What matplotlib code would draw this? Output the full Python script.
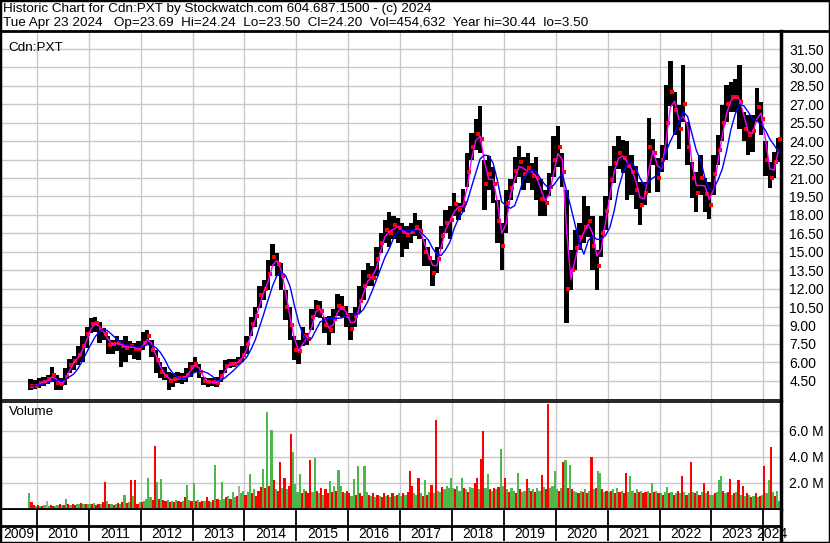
import numpy as np
import pandas as pd
import matplotlib
matplotlib.use("Agg")
import matplotlib.pyplot as plt

plt.rcParams['font.family'] = ['Liberation Sans', 'DejaVu Sans']

# monthly price ranges, Nov 2009 .. Apr 2024
high = [4.6, 4.55,
        4.7, 4.8, 5.0, 5.65, 4.95, 4.75, 5.5, 6.3, 6.5, 7.3, 8.1, 8.9,
        9.6, 9.7, 9.3, 8.8, 8.1, 7.8, 8.1, 7.8, 8.1, 7.7, 7.55, 7.7,
        8.5, 8.65, 7.8, 7.0, 6.05, 5.65, 5.25, 5.1, 5.2, 5.1, 5.5, 6.05,
        6.45, 5.9, 4.8, 4.7, 4.7, 4.8, 5.35, 6.2, 6.3, 6.3, 6.45, 7.3,
        8.1, 9.7, 10.5, 12.2, 12.7, 14.3, 15.6, 14.9, 14.1, 11.9, 10.5, 8.1,
        7.8, 8.9, 8.4, 10.3, 11.1, 10.95, 9.7, 9.8, 10.3, 11.6, 11.4, 10.55,
        10.0, 10.5, 12.2, 13.5, 14.1, 13.8, 15.4, 16.5, 17.6, 18.2, 17.9, 17.75,
        17.35, 17.1, 17.35, 18.15, 17.6, 16.0, 15.4, 14.35, 15.4, 17.1, 18.4, 18.7,
        19.8, 19.0, 20.1, 23.0, 24.7, 25.8, 26.85, 22.5, 22.8, 21.9, 19.2, 17.3,
        20.0, 20.9, 22.75, 23.6, 22.75, 23.0, 22.2, 22.75, 20.9, 20.0, 21.4, 24.4,
        25.2, 23.0, 20.0, 15.15, 16.8, 17.3, 19.5, 18.7, 17.9, 15.15, 17.9, 19.5,
        22.0, 23.6, 24.4, 24.1, 24.0, 22.9, 22.0, 20.7, 20.7, 25.85, 24.2, 22.6,
        23.7, 28.6, 30.5, 28.0, 26.95, 30.2, 25.6, 22.3, 21.5, 22.9, 21.0, 20.7,
        22.9, 24.5, 26.95, 28.6, 28.85, 29.1, 30.2, 26.4, 26.1, 26.1, 28.3, 27.2,
        24.0, 22.3, 23.1, 24.24]
low = [3.75, 3.8,
       3.9, 4.1, 4.2, 4.4, 3.75, 3.75, 4.15, 5.1, 5.35, 5.8, 6.05, 7.15,
       8.4, 8.5, 7.55, 7.8, 6.7, 6.7, 6.9, 5.65, 6.05, 6.6, 6.3, 6.2,
       7.0, 7.4, 6.45, 5.1, 4.7, 4.55, 3.75, 4.0, 4.3, 4.25, 4.4, 4.8,
       5.2, 4.7, 4.15, 4.0, 4.05, 3.95, 4.4, 5.1, 5.5, 5.6, 5.8, 6.05,
       6.7, 8.1, 8.9, 10.4, 11.1, 11.9, 13.8, 13.0, 11.9, 9.45, 7.8, 6.2,
       5.9, 7.3, 7.4, 8.6, 9.7, 9.6, 8.35, 7.4, 8.4, 9.75, 9.7, 8.9,
       7.8, 8.9, 10.0, 11.1, 12.2, 12.2, 13.0, 14.9, 15.7, 15.4, 16.0, 15.7,
       14.6, 15.2, 15.7, 16.25, 16.0, 13.8, 13.8, 12.2, 13.25, 15.2, 16.5, 16.0,
       17.9, 17.6, 18.2, 20.3, 22.5, 23.3, 23.0, 18.4, 20.0, 19.0, 15.7, 13.5,
       16.5, 19.2, 20.6, 21.1, 20.0, 20.6, 20.0, 19.2, 17.9, 17.9, 19.5, 21.1,
       21.9, 20.3, 9.2, 11.9, 13.5, 15.15, 15.7, 16.2, 13.5, 11.9, 14.6, 16.8,
       19.2, 20.6, 21.7, 21.4, 19.2, 19.6, 18.5, 17.15, 18.8, 19.8, 22.05, 19.9,
       21.5, 22.5, 26.9, 24.5, 23.4, 25.6, 22.05, 19.35, 18.25, 19.6, 18.25, 17.7,
       19.6, 22.05, 24.0, 25.6, 26.4, 26.4, 25.0, 24.0, 22.9, 23.1, 25.6, 24.5,
       21.2, 20.15, 21.0, 22.3]
close = [4.1, 4.1,
         4.3, 4.4, 4.6, 5.0, 4.3, 4.2, 4.8, 5.8, 6.1, 6.6, 7.3, 8.3,
         9.1, 9.2, 8.6, 8.3, 7.4, 7.5, 7.6, 7.3, 7.2, 7.3, 7.1, 7.1,
         7.6, 8.1, 7.0, 6.2, 5.2, 4.9, 4.5, 4.6, 4.7, 4.7, 5.0, 5.6,
         5.9, 5.2, 4.5, 4.4, 4.4, 4.3, 4.9, 5.7, 5.9, 5.9, 6.1, 6.6,
         7.5, 9.1, 9.8, 11.5, 12.0, 13.2, 14.6, 14.0, 13.0, 10.5, 9.0, 7.0,
         6.9, 8.1, 7.9, 9.7, 10.5, 10.2, 9.0, 8.6, 9.5, 10.6, 10.4, 9.8,
         8.7, 9.8, 11.0, 12.2, 13.0, 12.9, 14.4, 15.7, 16.8, 16.5, 17.2, 16.9,
         16.6, 16.4, 16.6, 17.0, 16.7, 15.0, 14.5, 13.3, 14.4, 16.3, 17.3, 17.6,
         18.9, 18.4, 19.0, 21.5, 23.5, 24.6, 24.2, 20.5, 21.3, 20.5, 17.5, 15.5,
         19.0, 20.2, 21.6, 22.3, 21.3, 21.8, 21.2, 21.0, 19.3, 19.0, 20.3, 22.5,
         23.5, 21.5, 12.0, 13.5, 15.3, 16.2, 17.0, 17.5, 15.5, 13.8, 16.5, 18.3,
         20.8, 22.2, 23.0, 22.6, 22.0, 21.5, 20.0, 18.8, 19.8, 23.5, 23.0, 21.0,
         22.5, 25.5, 28.0, 26.5, 25.0, 27.0, 23.5, 21.0, 19.8, 21.0, 19.7, 18.8,
         21.3, 23.3, 25.5, 27.0, 27.6, 27.6, 27.2, 25.0, 24.5, 24.8, 26.8, 25.8,
         22.5, 21.0, 22.3, 24.2]

# half-monthly volume (millions), Nov 2009 .. Apr 2024
vol = [1.2, 0.5, 0.3, 0.25,
       0.3, 0.25, 0.2, 0.3, 0.6, 0.25, 0.3, 0.2, 0.25, 0.3, 0.35, 0.3, 0.3, 0.8, 0.35, 0.3, 0.35, 0.3, 0.4, 0.35, 0.45, 0.4, 0.35, 0.4,
       0.4, 0.35, 0.45, 0.3, 0.4, 0.35, 0.5, 2.05, 0.6, 0.35, 0.4, 0.3, 0.35, 0.45, 0.4, 0.5, 1.1, 0.45, 0.5, 2.2, 1.0, 2.2, 0.4, 0.5,
       0.5, 0.6, 0.8, 2.4, 0.9, 0.7, 4.85, 2.1, 0.8, 2.3, 0.7, 0.6, 0.7, 0.5, 0.6, 0.5, 0.7, 0.6, 0.5, 0.6, 0.9, 1.85, 0.7, 0.6,
       2.0, 0.6, 0.7, 0.5, 0.6, 0.6, 0.9, 0.6, 0.5, 0.7, 3.4, 0.8, 0.7, 2.1, 0.8, 0.9, 1.0, 0.8, 1.3, 0.9, 1.0, 1.8, 1.2, 1.4,
       1.1, 1.3, 2.7, 1.2, 1.5, 1.0, 1.4, 1.7, 3.1, 1.6, 7.46, 1.8, 6.1, 2.2, 1.5, 1.4, 3.6, 1.6, 2.4, 1.5, 1.8, 5.8, 4.4, 1.9,
       1.3, 2.7, 1.2, 1.5, 1.4, 1.2, 3.8, 1.3, 3.9, 1.4, 1.2, 1.6, 1.1, 1.5, 1.2, 2.15, 1.3, 1.8, 1.4, 3.0, 1.8, 1.3, 1.2, 1.4,
       1.2, 1.0, 2.3, 1.1, 3.3, 1.2, 1.0, 3.3, 1.3, 1.1, 1.0, 1.2, 0.9, 1.1, 1.0, 0.9, 1.2, 1.0, 1.1, 0.9, 1.2, 1.0, 1.1, 1.2,
       1.0, 1.2, 1.1, 1.3, 2.9, 1.8, 1.2, 1.1, 2.4, 1.2, 1.0, 2.2, 1.1, 1.3, 1.85, 1.2, 6.85, 1.4, 1.3, 1.7, 1.5, 1.8, 1.6, 2.35,
       1.6, 1.5, 1.8, 1.4, 2.4, 1.6, 1.5, 1.3, 1.7, 1.6, 2.0, 2.4, 1.5, 3.85, 6.0, 1.6, 2.7, 1.5, 1.4, 1.6, 1.5, 1.7, 4.6, 1.8,
       2.4, 1.5, 1.3, 1.6, 1.4, 1.2, 2.8, 1.5, 1.3, 1.4, 2.3, 1.6, 1.4, 1.5, 1.3, 1.6, 1.4, 2.6, 1.7, 1.5, 8.1, 1.6, 1.8, 2.9,
       1.5, 1.4, 1.6, 3.65, 3.77, 1.6, 3.4, 1.5, 1.4, 1.3, 1.2, 1.4, 1.3, 1.5, 1.2, 1.4, 4.0, 1.5, 1.6, 2.95, 2.8, 1.5, 1.3, 1.4,
       1.3, 1.4, 1.5, 1.2, 1.6, 1.3, 1.4, 1.2, 2.75, 1.3, 2.5, 1.4, 1.2, 1.5, 1.3, 1.4, 1.2, 1.3, 1.4, 1.2, 2.0, 1.3, 1.4, 1.2,
       1.2, 1.1, 1.3, 1.7, 1.2, 1.3, 1.1, 1.2, 1.4, 1.2, 2.55, 1.3, 1.1, 1.2, 3.64, 1.3, 1.2, 1.4, 1.1, 1.3, 2.0, 1.2, 1.4, 1.1,
       1.1, 1.2, 1.3, 2.2, 2.5, 1.4, 1.2, 1.3, 2.3, 1.1, 1.2, 1.3, 2.2, 1.1, 1.8, 1.0, 1.2, 1.1, 0.9, 1.0, 1.2, 0.9, 1.0, 1.1,
       3.3, 1.2, 2.2, 4.8, 1.3, 1.0, 1.4, 0.6]
vol_col = ("grrg"
           "rgrgkgrrggrgrgrgrrggrgrg"
           "grgrrgrrgrgrgrgrgrgrgrrg"
           "rggggrrgrgrrgrgrgrrgrggr"
           "grgrrgrrgrgrgggrgrggrkgg"
           "rggrgrrrgrgrgrgrrgrgrrgg"
           "ggrgrrrggrgrgrrgrgrggrgr"
           "rggrgrrggrgrgrgrrgrgrgrg"
           "grgrrrggrgrgrgrgrggrgggg"
           "grgggrgrggrrgrrggrgrgrgg"
           "rgrggrgrggrgrgrggrgrrggg"
           "grgrgrgrggrgrgrgrgrggrgr"
           "grgrgrgrrgggrgrgrrgrgrgr"
           "grggrgrgrgrgrgrgrgrgrgrg"
           "grgggrgrrgrgrgrgrgrgrgrg"
           "rggrgrgg")

years = list(range(2009, 2025))
price_ticks = np.arange(4.5, 31.6, 1.5)
vol_ticks = [2, 4, 6]

# ---- layout helpers (pixel -> figure fraction)
W, H = 830, 543
def fx(px):
    return px / W
def fy(py):
    return 1 - py / H

t_month = 2009 + (10 + np.arange(len(close)) + 0.5) / 12
t_half = 2009 + (10 + (np.arange(len(vol)) + 0.5) / 2) / 12
x0, x1 = 2009.307, 2024.341

cl = pd.Series(close)
ma_fast = cl.rolling(2, min_periods=1).mean()
ma_slow = cl.rolling(5, min_periods=1).mean()

grid_c = '#c8c8c8'
fig = plt.figure(figsize=(8.3, 5.43), dpi=100)

# price panel
ax = fig.add_axes([fx(1), fy(400), fx(781) - fx(1), (400 - 31) / H])
ax.set_xlim(x0, x1)
ax.set_ylim(2.93, 32.97)
for y in price_ticks:
    ax.axhline(y, color=grid_c, lw=1, zorder=0)
for yr in years[1:]:
    ax.axvline(yr, color=grid_c, lw=1, zorder=0)
ax.bar(t_month, np.array(high) - np.array(low), bottom=low, width=1 / 12,
       color='black', linewidth=0, zorder=2)
ax.plot(t_month + 1 / 30, close, 's', color='red', ms=2.2, mew=0, zorder=3)
ax.plot(t_month, ma_fast, color='#ff00ff', lw=1.0, zorder=4)
ax.plot(t_month, ma_slow, color='#0000ff', lw=1.0, zorder=5)
ax.yaxis.tick_right()
ax.set_yticks(price_ticks)
ax.set_yticklabels(['%.2f' % v for v in price_ticks], fontsize=10)
ax.tick_params(axis='y', length=0, pad=6)
ax.set_xticks([])
ax.text(0.01, 0.97, 'Cdn:PXT', transform=ax.transAxes, fontsize=9.7, va='top')
for s in ['left', 'top']:
    ax.spines[s].set_visible(False)
ax.spines['right'].set_linewidth(2.5)
ax.spines['bottom'].set_linewidth(1.2)

# volume panel
axv = fig.add_axes([fx(1), fy(509), fx(781) - fx(1), (509 - 402) / H])
axv.set_xlim(x0, x1)
axv.set_ylim(0, 8.23)
for y in vol_ticks:
    axv.axhline(y, color=grid_c, lw=1, zorder=0)
for yr in years[1:]:
    axv.axvline(yr, color=grid_c, lw=1, zorder=0)
cmap = {'r': '#ff0000', 'g': '#4cb84c', 'k': '#a8a8a8'}
axv.bar(t_half, vol, width=1 / 24, color=[cmap[c] for c in vol_col],
        linewidth=0, zorder=2)
axv.yaxis.tick_right()
axv.set_yticks(vol_ticks)
axv.set_yticklabels(['%.1f M' % v for v in vol_ticks], fontsize=10)
axv.tick_params(axis='y', length=0, pad=6)
axv.set_xticks([])
axv.text(0.01, 0.96, 'Volume', transform=axv.transAxes, fontsize=9.7, va='top')
axv.spines['left'].set_visible(False)
axv.spines['top'].set_linewidth(1.2)
axv.spines['right'].set_linewidth(2.5)
axv.spines['bottom'].set_linewidth(2)

# date strip below volume
axd = fig.add_axes([fx(1), fy(541), fx(781) - fx(1), (541 - 510) / H])
axd.set_xlim(x0, x1)
axd.set_ylim(0, 2)
axd.axhline(1, color='black', lw=2)
for yr in years[1:]:
    axd.axvline(yr, color='black', lw=1.3)
for yr in years:
    lo_, hi_ = max(yr, x0), min(yr + 1, x1)
    axd.text((lo_ + hi_) / 2, 0.45, str(yr), ha='center', va='center', fontsize=10)
axd.set_xticks([])
axd.set_yticks([])
for s in ['left', 'top', 'bottom']:
    axd.spines[s].set_visible(False)
axd.spines['right'].set_linewidth(2.5)

# header
fig.text(fx(3), fy(12), 'Historic Chart for Cdn:PXT by Stockwatch.com 604.687.1500 - (c) 2024',
         fontsize=9.7, va='baseline')
fig.text(fx(3), fy(26), 'Tue Apr 23 2024   Op=23.69  Hi=24.24  Lo=23.50  Cl=24.20  '
         'Vol=454,632  Year hi=30.44  lo=3.50', fontsize=9.7, va='baseline')
fig.add_artist(plt.Line2D([0, 1], [fy(30.5), fy(30.5)], color='black', lw=2))
fig.add_artist(plt.Rectangle((0, 0), 1, 1, fill=False, ec='black', lw=2.5,
                             transform=fig.transFigure))

fig.savefig('out.png', dpi=100)
